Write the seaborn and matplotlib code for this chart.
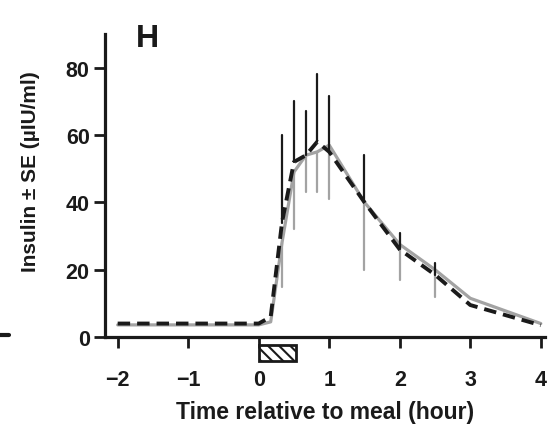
import numpy as np
import pandas as pd
import seaborn as sns
import matplotlib.pyplot as plt
from matplotlib.patches import Rectangle
from matplotlib.lines import Line2D

# Temps (heures) par rapport au repas
temps = [-2, -1.5, -1, -0.5, 0, 0.17, 0.33, 0.5, 0.67, 0.83, 1.0, 1.5, 2, 2.5, 3, 4]

# Série en pointillés (noire) : moyenne et SE vers le haut
noir_moy = [4, 4, 4, 4, 4, 6, 34, 52, 54, 58, 55, 40, 26, 18.5, 9.5, 3.5]
noir_se = [0, 0, 0, 0, 0, 0, 26, 18, 13, 20, 16.5, 14, 5, 3.5, 0, 0]

# Série grise (trait plein) : moyenne et SE vers le bas
gris_moy = [3.6, 3.6, 3.6, 3.6, 3.6, 4.5, 28, 49, 54, 55, 57, 40, 27.5, 20, 11.5, 4]
gris_se = [0, 0, 0, 0, 0, 0, 13, 17, 11, 12, 16, 20, 10.5, 8, 0, 0]

ticks_x = [-2, -1, 0, 1, 2, 3, 4]
ticks_y = [0, 20, 40, 60, 80]

df = pd.DataFrame({
    'temps': temps + temps,
    'insuline': noir_moy + gris_moy,
    'groupe': ['noir'] * len(temps) + ['gris'] * len(temps),
})

sns.set_style('ticks')
plt.rcParams['font.family'] = ['Liberation Sans', 'DejaVu Sans']

fig = plt.figure(figsize=(5.54, 4.27), dpi=100)
ax = fig.add_axes([0.1895, 0.2084, 0.7943, 0.7096])

gris = '#a3a3a3'

# barres d'erreur grises (vers le bas)
for t, m, e in zip(temps, gris_moy, gris_se):
    if e > 0:
        ax.plot([t, t], [m - e, m], color=gris, lw=1.6, zorder=2)

sns.lineplot(data=df[df['groupe'] == 'gris'], x='temps', y='insuline',
             color=gris, lw=2.3, ax=ax, zorder=3)

# barres d'erreur noires (vers le haut)
for t, m, e in zip(temps, noir_moy, noir_se):
    if e > 0:
        ax.plot([t, t], [m, m + e], color='#1a1a1a', lw=1.6, zorder=4)

sns.lineplot(data=df[df['groupe'] == 'noir'], x='temps', y='insuline',
             color='#1a1a1a', lw=2.8, ax=ax, zorder=5, dashes=(3.2, 1.8))

ax.set_xlim(-2.18, 4.06)
ax.set_ylim(0, 90)
ax.set_xticks(ticks_x)
ax.set_xticklabels(['\u22122', '\u22121', '0', '1', '2', '3', '4'])
ax.set_yticks(ticks_y)

for s in ['top', 'right']:
    ax.spines[s].set_visible(False)
for s in ['left', 'bottom']:
    ax.spines[s].set_linewidth(2.3)
    ax.spines[s].set_color('#1a1a1a')

ax.tick_params(axis='both', width=2.0, length=8, color='#1a1a1a',
               labelsize=15.5, labelcolor='#1a1a1a', pad=3)
ax.tick_params(axis='x', pad=15)
for lab in ax.get_xticklabels() + ax.get_yticklabels():
    lab.set_fontweight('bold')

ax.set_xlabel('Time relative to meal (hour)', fontsize=16.5, fontweight='bold',
              color='#1a1a1a', labelpad=7)
ax.set_ylabel('Insulin \u00b1 SE (\u00b5IU/ml)', fontsize=15, fontweight='bold',
              color='#1a1a1a')
ax.yaxis.set_label_coords(-0.148, 0.55)

# repas (boîte hachurée sous l'axe)
plt.rcParams['hatch.linewidth'] = 1.5
ax.add_patch(Rectangle((0, -7.2), 0.53, 4.8, facecolor='white', edgecolor='#1a1a1a',
                       hatch='\\\\\\', lw=2, clip_on=False, zorder=6))

ax.text(0.07, 1.035, 'H', transform=ax.transAxes, fontsize=23, fontweight='bold',
        color='#1a1a1a', va='top')

# petit trait résiduel du panneau voisin
fig.add_artist(Line2D([0, 0.016], [0.213, 0.213], color='#1a1a1a', lw=3))

plt.savefig('out.png', dpi=100)
